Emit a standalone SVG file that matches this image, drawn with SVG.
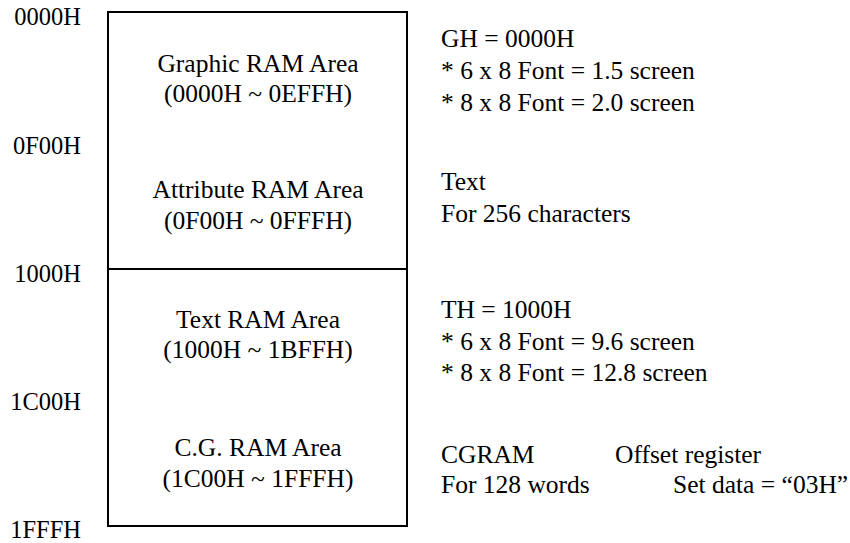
<svg xmlns="http://www.w3.org/2000/svg" width="850" height="543" viewBox="0 0 850 543">
<style>
text{font-size:25.5px;fill:#000}
.a{font-size:24.5px}
.c{text-anchor:middle}
.r{text-anchor:end}
.box{fill:#fff;stroke:#000;stroke-width:2}
</style>
<rect width="850" height="543" fill="#fff"/>
<g font-family="'Liberation Serif', 'Times New Roman', serif">
<g id="addresses">
<text class="r a" x="81" y="25">0000H</text>
<text class="r a" x="81" y="154">0F00H</text>
<text class="r a" x="81" y="282">1000H</text>
<text class="r a" x="81" y="410">1C00H</text>
<text class="r a" x="81" y="538">1FFFH</text>
</g>
<g id="upper-block">
<rect class="box" x="108" y="12" width="299" height="257"/>
<text class="c" x="258" y="72">Graphic RAM Area</text>
<text class="c" x="258" y="102">(0000H ~ 0EFFH)</text>
<text class="c" x="258" y="198">Attribute RAM Area</text>
<text class="c" x="258" y="229">(0F00H ~ 0FFFH)</text>
</g>
<g id="lower-block">
<rect class="box" x="108" y="269" width="299" height="257"/>
<text class="c" x="258" y="328">Text RAM Area</text>
<text class="c" x="258" y="358">(1000H ~ 1BFFH)</text>
<text class="c" x="258" y="456">C.G. RAM Area</text>
<text class="c" x="258" y="487">(1C00H ~ 1FFFH)</text>
</g>
<g id="connectors"></g>
<g id="notes">
<text x="441" y="47">GH = 0000H</text>
<text x="441" y="79">* 6 x 8 Font = 1.5 screen</text>
<text x="441" y="111">* 8 x 8 Font = 2.0 screen</text>
<text x="441" y="190">Text</text>
<text x="441" y="222">For 256 characters</text>
<text x="441" y="318">TH = 1000H</text>
<text x="441" y="350">* 6 x 8 Font = 9.6 screen</text>
<text x="441" y="381">* 8 x 8 Font = 12.8 screen</text>
<text x="441" y="463">CGRAM</text>
<text x="441" y="493">For 128 words</text>
<text x="615" y="463">Offset register</text>
<text x="673" y="493">Set data = “03H”</text>
</g>
</g>
</svg>
